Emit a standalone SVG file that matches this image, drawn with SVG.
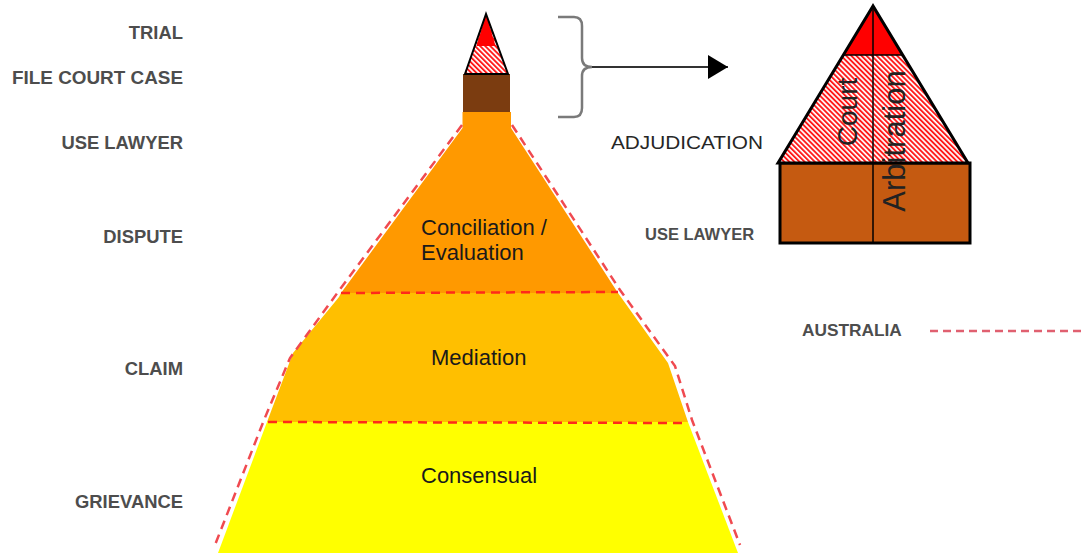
<svg xmlns="http://www.w3.org/2000/svg" width="1083" height="553" viewBox="0 0 1083 553">
<defs>
<pattern id="hatch" patternUnits="userSpaceOnUse" width="3.6" height="3.6" patternTransform="rotate(-45)">
<rect width="3.6" height="3.6" fill="#ffffff"/>
<rect width="1.9" height="3.6" fill="#ff1a1a"/>
</pattern>
<marker id="arrow" markerUnits="userSpaceOnUse" markerWidth="22" markerHeight="24" refX="20" refY="12" orient="auto">
<path d="M0,0 L20,12 L0,24 Z" fill="#000"/>
</marker>
</defs>
<style>
.lbl{font-family:"Liberation Sans",Arial,sans-serif;font-size:18.4px;font-weight:bold;fill:#4d4d4d;text-anchor:end}
.lvl{font-family:"Liberation Sans",Arial,sans-serif;font-size:22px;fill:#1a1a1a}
.side{font-family:"Liberation Sans",Arial,sans-serif;font-weight:bold;fill:#4d4d4d}
.sep{stroke:#ff2a1a;stroke-width:2.5;stroke-dasharray:9 6;fill:none}
.outline{stroke:#f04a50;stroke-width:2.5;stroke-dasharray:9 6;fill:none}
.rot{font-family:"Liberation Sans",Arial,sans-serif;fill:#222;text-anchor:middle}
</style>

<g id="left-labels">
<text class="lbl" x="183" y="39">TRIAL</text>
<text class="lbl" x="183" y="84" textLength="171" lengthAdjust="spacingAndGlyphs">FILE COURT CASE</text>
<text class="lbl" x="183" y="149">USE LAWYER</text>
<text class="lbl" x="183" y="243">DISPUTE</text>
<text class="lbl" x="183" y="375">CLAIM</text>
<text class="lbl" x="183" y="508">GRIEVANCE</text>
</g>

<g id="funnel-top">
<rect x="463" y="74" width="47" height="39" fill="#7b3c10"/>
<path d="M486,14 L465,74 L508,74 Z" fill="url(#hatch)"/>
<path d="M486,14 L476.5,46 L495.5,46 Z" fill="#ff0000"/>
<path d="M486,14 L465,74 L508,74 Z" fill="none" stroke="#000" stroke-width="2"/>
</g>

<g id="conciliation">
<path d="M462.5,112 L511,112 L511,128 L618,293 L341,293 L462.5,128 Z" fill="#ff9900"/>
<text class="lvl" x="421" y="235">Conciliation /</text>
<text class="lvl" x="421" y="260">Evaluation</text>
</g>

<g id="mediation">
<path d="M341,293 L618,293 L668,363 L688,422 L267,422 L293,353 L339,297 Z" fill="#ffbf00"/>
<text class="lvl" x="431" y="365">Mediation</text>
</g>

<g id="consensual">
<path d="M267,422 L688,422 L738,553 L218,553 Z" fill="#ffff00"/>
<text class="lvl" x="421" y="483">Consensual</text>
</g>

<g id="connectors">
<polyline class="outline" points="462,125 338,292 290,358 264,420 215,545"/>
<polyline class="outline" points="512,125 620,290 675,366 692,420 740,545"/>
<line class="sep" x1="341" y1="293" x2="618" y2="292"/>
<line class="sep" x1="268" y1="422" x2="688" y2="423"/>
<path d="M558,17 L574,17 Q582,17 582,26 L582,58 Q582,67 592,67 Q582,67 582,76 L582,108 Q582,117 574,117 L558,117" fill="none" stroke="#7a7a7a" stroke-width="2.5"/>
<line x1="592" y1="67" x2="728" y2="67" stroke="#333" stroke-width="2" marker-end="url(#arrow)"/>
</g>

<g id="adjudication">
<rect x="780" y="163" width="190" height="80" fill="#c55a11" stroke="#000" stroke-width="3"/>
<path d="M873,6 L778,163 L968,163 Z" fill="url(#hatch)"/>
<path d="M873,6 L843.5,55 L902.5,55 Z" fill="#ff0000"/>
<line x1="843.5" y1="55" x2="902.5" y2="55" stroke="#000" stroke-width="1.5"/>
<path d="M873,6 L778,163 L968,163 Z" fill="none" stroke="#000" stroke-width="3" stroke-linejoin="miter"/>
<line x1="873" y1="6" x2="873" y2="243" stroke="#000" stroke-width="1.5"/>
<text class="rot" font-size="28" transform="translate(857,112) rotate(-90)">Court</text>
<text class="rot" font-size="31" transform="translate(905,141) rotate(-90)">Arbitration</text>
</g>

<g id="side-labels">
<text x="611" y="149" font-family="'Liberation Sans', Arial, sans-serif" font-size="18" fill="#262626" textLength="152" lengthAdjust="spacingAndGlyphs">ADJUDICATION</text>
<text class="side" x="645" y="240" font-size="16.5">USE LAWYER</text>
<text class="side" x="802" y="336" font-size="17.3">AUSTRALIA</text>
</g>

<g id="legend-line">
<line x1="930" y1="331" x2="1083" y2="331" stroke="#e06070" stroke-width="2.5" stroke-dasharray="8 5"/>
</g>
</svg>
